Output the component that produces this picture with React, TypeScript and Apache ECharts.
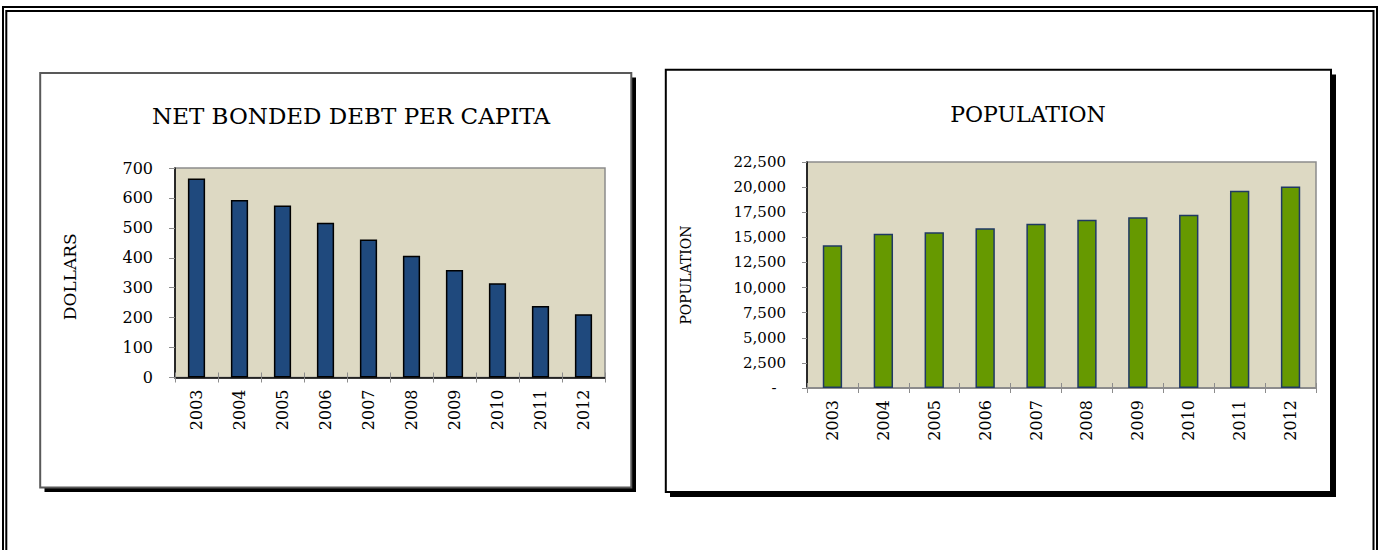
import React, { useEffect, useRef } from "react";
import * as echarts from "echarts";

const categories = ["2003", "2004", "2005", "2006", "2007", "2008", "2009", "2010", "2011", "2012"];
const debtPerCapita = [665, 593, 575, 517, 461, 407, 359, 315, 239, 211];
const population = [14200, 15350, 15500, 15900, 16350, 16750, 17000, 17250, 19650, 20050];

const debtTitle = "NET BONDED DEBT PER CAPITA";
const debtAxisName = "DOLLARS";
const popTitle = "POPULATION";
const popAxisName = "POPULATION";

const debtMax = 700;
const debtInterval = 100;
const popMax = 22500;
const popInterval = 2500;

const SERIF = '"DejaVu Serif", serif';

export default function App() {
  const ref = useRef<HTMLDivElement>(null);

  useEffect(() => {
    if (!ref.current) return;
    const chart = echarts.init(ref.current, undefined, { renderer: "svg" });

    const axisLabelBase = { fontFamily: SERIF, color: "#000" };
    const innerTickAxis = (gridIndex: number) => ({
      type: "category", gridIndex, data: categories, position: "bottom",
      axisLine: { show: false },
      axisTick: { show: true, inside: true, length: 5, lineStyle: { color: "#8C8C8C", width: 1 } },
      axisLabel: { show: false },
      splitLine: { show: false },
    });

    const option: any = {
      animation: false,
      backgroundColor: "#ffffff",
      grid: [
        {
          left: 175, top: 168, width: 430, height: 209.5,
          show: true, backgroundColor: "#DDD9C3", borderColor: "#8C8C8C", borderWidth: 1.5,
        },
        {
          left: 807, top: 162, width: 509, height: 226,
          show: true, backgroundColor: "#DDD9C3", borderColor: "#8C8C8C", borderWidth: 1.5,
        },
      ],
      xAxis: [
        {
          type: "category", gridIndex: 0, data: categories,
          axisLine: { show: true, lineStyle: { color: "#000", width: 1.5 } },
          axisTick: { show: true, length: 5, lineStyle: { color: "#8C8C8C", width: 1 } },
          axisLabel: { ...axisLabelBase, rotate: 90, fontSize: 16, margin: 12, interval: 0 },
        },
        {
          type: "category", gridIndex: 1, data: categories,
          axisLine: { show: true, lineStyle: { color: "#8C8C8C", width: 2 } },
          axisTick: { show: true, length: 5, lineStyle: { color: "#8C8C8C", width: 1 } },
          axisLabel: { ...axisLabelBase, rotate: 90, fontSize: 16, margin: 12, interval: 0 },
        },
        innerTickAxis(0),
        innerTickAxis(1),
      ],
      yAxis: [
        {
          type: "value", gridIndex: 0, min: 0, max: debtMax, interval: debtInterval,
          axisLine: { show: true, lineStyle: { color: "#000", width: 1.5 } },
          axisTick: { show: true, length: 6, lineStyle: { color: "#8C8C8C", width: 1 } },
          splitLine: { show: false },
          axisLabel: { ...axisLabelBase, fontSize: 16, margin: 22 },
          name: debtAxisName, nameLocation: "middle", nameRotate: 90, nameGap: 97,
          nameTextStyle: { fontFamily: SERIF, fontSize: 17, color: "#000", padding: [0, 8, 0, 0] },
        },
        {
          type: "value", gridIndex: 1, min: 0, max: popMax, interval: popInterval,
          axisLine: { show: true, lineStyle: { color: "#000", width: 1.5 } },
          axisTick: { show: true, length: 5, lineStyle: { color: "#8C8C8C", width: 1 } },
          splitLine: { show: false },
          axisLabel: {
            ...axisLabelBase, fontSize: 15, margin: 21,
            formatter: (v: number) => (v === 0 ? "-  " : v.toLocaleString("en-US")),
          },
          name: popAxisName, nameLocation: "middle", nameRotate: 90, nameGap: 114,
          nameTextStyle: { fontFamily: SERIF, fontSize: 14, color: "#000" },
        },
      ],
      series: [
        {
          type: "bar", xAxisIndex: 0, yAxisIndex: 0, data: debtPerCapita,
          barWidth: "40%",
          itemStyle: { color: "#1F497D", borderColor: "#000", borderWidth: 1.5 },
        },
        {
          type: "bar", xAxisIndex: 1, yAxisIndex: 1, data: population,
          barWidth: "38%",
          itemStyle: { color: "#669900", borderColor: "#1F3864", borderWidth: 1.5 },
        },
      ],
      graphic: [
        // outer double frame
        { type: "rect", z: -20, shape: { x: 3, y: 7, width: 1374, height: 600 }, style: { fill: "none", stroke: "#000", lineWidth: 2 } },
        { type: "rect", z: -20, shape: { x: 6.3, y: 11, width: 1367.2, height: 600 }, style: { fill: "none", stroke: "#000", lineWidth: 2 } },
        // left panel shadow + box
        { type: "rect", z: -15, shape: { x: 44.5, y: 77.5, width: 591.5, height: 414.5 }, style: { fill: "#000" } },
        { type: "rect", z: -14, shape: { x: 40.2, y: 72.9, width: 591.1, height: 414.7 }, style: { fill: "#fff", stroke: "#595959", lineWidth: 2 } },
        // right panel shadow + box
        { type: "rect", z: -15, shape: { x: 670, y: 74.5, width: 666, height: 422.5 }, style: { fill: "#000" } },
        { type: "rect", z: -14, shape: { x: 665.8, y: 69.8, width: 665.2, height: 422.2 }, style: { fill: "#fff", stroke: "#000", lineWidth: 2 } },
        // titles
        { type: "text", z: 10, x: 351, y: 116, style: { text: debtTitle, fontFamily: SERIF, fontSize: 23, fill: "#000", align: "center", verticalAlign: "middle" } },
        { type: "text", z: 10, x: 1028, y: 114, style: { text: popTitle, fontFamily: SERIF, fontSize: 22, fill: "#000", align: "center", verticalAlign: "middle" } },
      ],
    };

    chart.setOption(option);
    return () => chart.dispose();
  }, []);

  return (
    <div
      ref={ref}
      style={{ position: "absolute", left: 0, top: 0, width: 1378, height: 550 }}
    />
  );
}
